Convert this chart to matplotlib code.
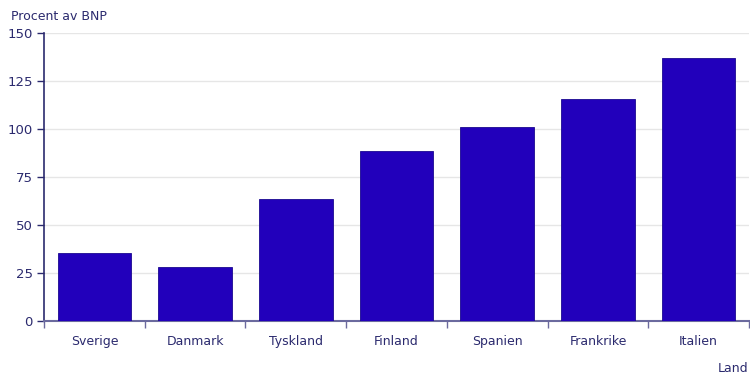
import matplotlib.pyplot as plt

# data
countries = ["Sverige", "Danmark", "Tyskland", "Finland", "Spanien", "Frankrike", "Italien"]
values = [35.4, 28.0, 63.5, 88.5, 101.0, 115.6, 137.0]
yticks = [0, 25, 50, 75, 100, 125, 150]

textcol = '#2b2a6e'
axcol = '#6b6a9e'

fig = plt.figure(figsize=(7.5, 3.74), dpi=100)
ax = fig.add_axes([0.0587, 0.1417, 0.9400, 0.7701])

x = range(len(countries))
ax.bar(x, values, width=0.73, color='#2200BB', edgecolor='#1a0890', linewidth=0.6, zorder=3)

ax.set_xlim(-0.5, len(countries) - 0.5)
ax.set_ylim(0, 150)
ax.set_yticks(yticks)
ax.grid(axis='y', color='#e6e6e6', linewidth=1, zorder=0)

# slot boundaries get the tick marks, the labels sit in the middle
ax.set_xticks([i - 0.5 for i in range(len(countries) + 1)], minor=False)
ax.set_xticklabels([])
ax.set_xticks(list(x), minor=True)
ax.set_xticklabels(countries, minor=True)
ax.tick_params(axis='x', which='minor', length=0, pad=10, labelsize=9, labelcolor=textcol)
ax.tick_params(axis='x', which='major', length=5, color=axcol, width=1)
ax.tick_params(axis='y', length=5, color=textcol, width=1, labelsize=9.5, labelcolor=textcol, pad=3)

for s in ['top', 'right']:
    ax.spines[s].set_visible(False)
ax.spines['left'].set_color(textcol)
ax.spines['bottom'].set_color(axcol)
ax.spines['left'].set_linewidth(1.2)
ax.spines['bottom'].set_linewidth(1.5)

fig.text(11 / 750, 1 - 16 / 374, "Procent av BNP", fontsize=9, color=textcol, va='center', ha='left')
fig.text(748 / 750, 1 - 368 / 374, "Land", fontsize=9, color=textcol, va='center', ha='right')

fig.savefig('out.png', dpi=100)
